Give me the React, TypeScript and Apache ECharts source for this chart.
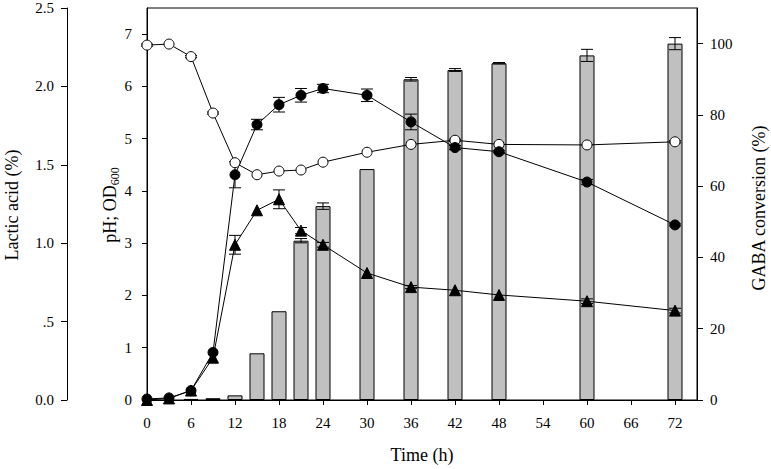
import React, { useEffect, useRef } from "react";
import * as echarts from "echarts";

const times = [0, 3, 6, 9, 12, 15, 18, 21, 24, 30, 36, 42, 48, 60, 72];
const pHValues = [6.79, 6.81, 6.57, 5.49, 4.54, 4.31, 4.38, 4.4, 4.55, 4.74, 4.89, 4.97, 4.89, 4.88, 4.94];
const pHErr = [0.02, 0, 0.02, 0.02, 0, 0, 0, 0, 0, 0, 0, 0.02, 0, 0, 0.02];
const od600 = [0.02, 0.04, 0.18, 0.91, 4.31, 5.27, 5.65, 5.83, 5.96, 5.83, 5.32, 4.83, 4.75, 4.17, 3.35];
const od600Err = [0, 0, 0, 0, 0.25, 0.1, 0.14, 0.13, 0.08, 0.12, 0.15, 0.04, 0.02, 0.05, 0.02];
const lacticAcid = [0.0, 0.01, 0.06, 0.27, 0.99, 1.21, 1.28, 1.08, 0.99, 0.81, 0.72, 0.7, 0.67, 0.63, 0.57];
const lacticErr = [0, 0, 0, 0, 0.06, 0, 0.06, 0.02, 0.015, 0, 0.01, 0, 0, 0.015, 0.015];
const gabaConversion = [null, null, 0.3, 0.5, 1.3, 13.1, 24.9, 44.7, 54.4, 64.8, 90.0, 92.6, 94.5, 96.7, 100.0];
const gabaErr = [0, 0, 0, 0, 0, 0, 0, 0.6, 0.9, 0, 0.5, 0.4, 0.2, 1.7, 1.7];

const FONT = "Liberation Serif";

function pairs(vals: (number | null)[]) {
  return times.map((t, i) => [t, vals[i]]).filter((d) => d[1] !== null);
}
function errData(vals: (number | null)[], errs: number[]) {
  const out: number[][] = [];
  times.forEach((t, i) => {
    const v = vals[i];
    if (v !== null && errs[i] > 0) out.push([t, v - errs[i], v + errs[i]]);
  });
  return out;
}

function errorSeries(data: number[][], yAxisIndex: number, z: number) {
  return {
    type: "custom",
    yAxisIndex,
    z,
    clip: false,
    silent: true,
    encode: { x: 0, y: [1, 2] },
    data,
    renderItem: (params: any, api: any) => {
      const x = api.value(0);
      const lo = api.value(1);
      const hi = api.value(2);
      const p1 = api.coord([x, hi]);
      const p2 = api.coord([x, lo]);
      const w = 6;
      const st = { stroke: "#000", lineWidth: 1 };
      return {
        type: "group",
        children: [
          { type: "line", shape: { x1: p1[0], y1: p1[1], x2: p2[0], y2: p2[1] }, style: st },
          { type: "line", shape: { x1: p1[0] - w, y1: p1[1], x2: p1[0] + w, y2: p1[1] }, style: st },
          { type: "line", shape: { x1: p2[0] - w, y1: p2[1], x2: p2[0] + w, y2: p2[1] }, style: st },
        ],
      };
    },
  };
}

const axisLine = { show: true, lineStyle: { color: "#000", width: 1 } };
const axisTick = { show: true, length: 5, lineStyle: { color: "#000", width: 1 } };
const labelStyle = { color: "#000", fontFamily: FONT, fontSize: 15 };

export default function App() {
  const ref = useRef<HTMLDivElement>(null);
  useEffect(() => {
    if (!ref.current) return;
    const chart = echarts.init(ref.current, null, { renderer: "svg" });
    const option: any = {
      animation: false,
      backgroundColor: "#fff",
      textStyle: { fontFamily: FONT },
      grid: {
        left: 147,
        right: 74,
        top: 8,
        bottom: 67,
        show: true,
        borderColor: "#000",
        borderWidth: 1,
        backgroundColor: "transparent",
      },
      xAxis: {
        type: "value",
        min: 0,
        max: 75,
        interval: 6,
        name: "Time (h)",
        nameLocation: "middle",
        nameGap: 46,
        nameTextStyle: { color: "#000", fontFamily: FONT, fontSize: 18 },
        axisLine,
        axisTick,
        splitLine: { show: false },
        axisLabel: { ...labelStyle, margin: 15, showMaxLabel: false },
      },
      yAxis: [
        {
          type: "value",
          position: "left",
          min: 0,
          max: 7.5,
          interval: 1,
          axisLine,
          axisTick,
          splitLine: { show: false },
          axisLabel: { ...labelStyle, margin: 15, showMaxLabel: false },
        },
        {
          type: "value",
          position: "left",
          offset: 80,
          min: 0,
          max: 2.5,
          interval: 0.5,
          axisLine,
          axisTick: { ...axisTick, length: 6 },
          splitLine: { show: false },
          axisLabel: {
            ...labelStyle,
            margin: 13,
            formatter: (v: number) => {
              const s = v.toFixed(1);
              return v > 0 && v < 1 ? s.slice(1) : s;
            },
          },
        },
        {
          type: "value",
          position: "right",
          min: 0,
          max: 110,
          interval: 20,
          axisLine,
          axisTick: { ...axisTick, length: 6 },
          splitLine: { show: false },
          axisLabel: { ...labelStyle, margin: 13, showMaxLabel: false },
        },
      ],
      graphic: [
        {
          type: "text",
          x: 12,
          y: 205,
          rotation: Math.PI / 2,
          style: {
            text: "Lactic acid (%)",
            fontFamily: FONT,
            fontSize: 18,
            fill: "#000",
            align: "center",
            verticalAlign: "middle",
          },
        },
        {
          type: "text",
          x: 110,
          y: 205,
          rotation: Math.PI / 2,
          style: {
            text: "{m|pH; OD}{s|600}",
            fontFamily: FONT,
            fill: "#000",
            align: "center",
            verticalAlign: "middle",
            rich: {
              m: { fontFamily: FONT, fontSize: 18, fill: "#000", verticalAlign: "middle" },
              s: { fontFamily: FONT, fontSize: 12, fill: "#000", verticalAlign: "bottom", padding: [10, 0, 0, 0] },
            },
          },
        },
        {
          type: "text",
          x: 759,
          y: 208,
          rotation: Math.PI / 2,
          style: {
            text: "GABA conversion (%)",
            fontFamily: FONT,
            fontSize: 18,
            fill: "#000",
            align: "center",
            verticalAlign: "middle",
          },
        },
      ],
      series: [
        {
          type: "bar",
          name: "GABA conversion",
          yAxisIndex: 2,
          barWidth: 15,
          z: 1,
          itemStyle: { color: "#c0c0c0", borderColor: "#000", borderWidth: 1 },
          data: pairs(gabaConversion),
        },
        errorSeries(errData(gabaConversion, gabaErr), 2, 2),
        errorSeries(errData(pHValues, pHErr), 0, 3),
        errorSeries(errData(od600, od600Err), 0, 3),
        errorSeries(errData(lacticAcid, lacticErr), 1, 3),
        {
          type: "line",
          name: "pH",
          yAxisIndex: 0,
          z: 5,
          clip: false,
          symbol: "circle",
          symbolSize: 10,
          lineStyle: { color: "#000", width: 1 },
          itemStyle: { color: "#fff", borderColor: "#000", borderWidth: 1 },
          data: pairs(pHValues),
        },
        {
          type: "line",
          name: "OD600",
          yAxisIndex: 0,
          z: 5,
          clip: false,
          symbol: "circle",
          symbolSize: 10,
          lineStyle: { color: "#000", width: 1 },
          itemStyle: { color: "#000", borderColor: "#000", borderWidth: 1 },
          data: pairs(od600),
        },
        {
          type: "line",
          name: "Lactic acid",
          yAxisIndex: 1,
          z: 5,
          clip: false,
          symbol: "triangle",
          symbolSize: 11,
          lineStyle: { color: "#000", width: 1 },
          itemStyle: { color: "#000", borderColor: "#000", borderWidth: 1 },
          data: pairs(lacticAcid),
        },
      ],
    };
    chart.setOption(option);
    return () => chart.dispose();
  }, []);
  return (
    <div
      ref={ref}
      style={{ position: "absolute", left: 0, top: 0, width: 771, height: 469 }}
    />
  );
}
